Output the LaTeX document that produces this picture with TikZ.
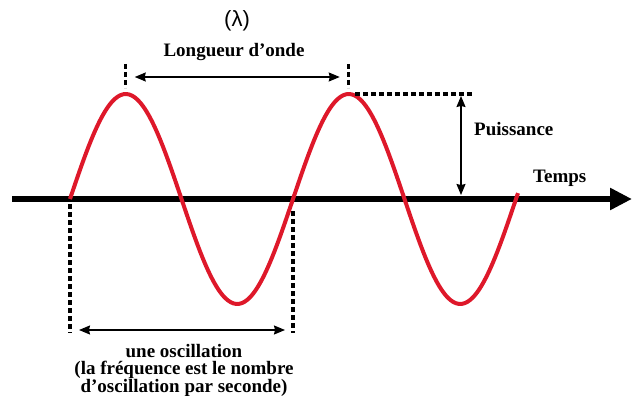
\documentclass[tikz,border=0pt]{standalone}
\usepackage{fontspec}
\setmainfont{Liberation Serif}
\newfontfamily\lamfont{Liberation Sans}
\usepackage{tikz}
\usetikzlibrary{positioning, arrows.meta, calc}

\definecolor{waveRed}{RGB}{222,24,42}

\begin{document}
\begin{tikzpicture}[
  x=1pt, y=-1pt,
  >=Stealth,
  axis/.style={line width=6pt, -{Stealth[length=22pt, width=21pt, inset=0pt]}},
  wave/.style={line width=4pt, waveRed, line join=round},
  guide/.style={line width=3.2pt, dash pattern=on 5pt off 3pt},
  dim/.style={<->, line width=1.4pt, >={Stealth[length=11pt, width=9pt, inset=1pt]}},
  lbl/.style={font=\fontsize{19}{17.5}\selectfont\bfseries, inner sep=0pt, align=center},
]
\useasboundingbox (0,0) rectangle (633,396);

% --- Axis ---
\coordinate (axStart) at (12,199);
\coordinate (axEnd)   at (632,199);
\draw[axis] (axStart) -- (axEnd);

% --- Wave ---
\draw[wave] plot[domain=70:518, samples=160, smooth]
  (\x, {199 - 105*sin(1.61435*(\x-70))});

% --- Key points on the wave ---
\coordinate (peakA)  at (125.75,94);
\coordinate (peakB)  at (348.75,94);
\coordinate (zeroA)  at (70,199);
\coordinate (zeroB)  at (293,199);

% --- Wavelength ---
\coordinate (topA) at (125.75,64);
\coordinate (topB) at (348.75,64);
\draw[guide] (topA) -- ($(peakA)+(0,-6)$);
\draw[guide] (topB) -- ($(peakB)+(0,-6)$);
\draw[dim] ($(topA)+(9,13)$) -- ($(topB)+(-9,13)$);
\node[lbl] (lambda) at (237,21) {\lamfont\mdseries\fontsize{22}{22}\selectfont(λ)};
\node[lbl] (wavelen) at (234,52) {Longueur d’onde};

% --- Amplitude ---
\coordinate (ampEnd) at (474,94);
\draw[guide] ($(peakB)+(6,0)$) -- (ampEnd);
\coordinate (ampTop) at (461,96);
\coordinate (ampBot) at (461,195);
\draw[dim] (ampTop) -- (ampBot);
\node[lbl, anchor=west] (power) at (474,129) {Puissance};
\node[lbl, anchor=west] (time) at (533,178) {Temps};

% --- One oscillation ---
\coordinate (botA) at (70,333);
\coordinate (botB) at (293,333);
\draw[guide] ($(zeroA)+(0,5)$) -- (botA);
\draw[guide] ($(zeroB)+(0,12)$) -- (botB);
\draw[dim] ($(botA)+(9,-3)$) -- ($(botB)+(-8,-3)$);
\node[lbl] (oscil) at (184,370)
  {une oscillation\\(la fréquence est le nombre\\d’oscillation par seconde)};

\end{tikzpicture}
\end{document}
